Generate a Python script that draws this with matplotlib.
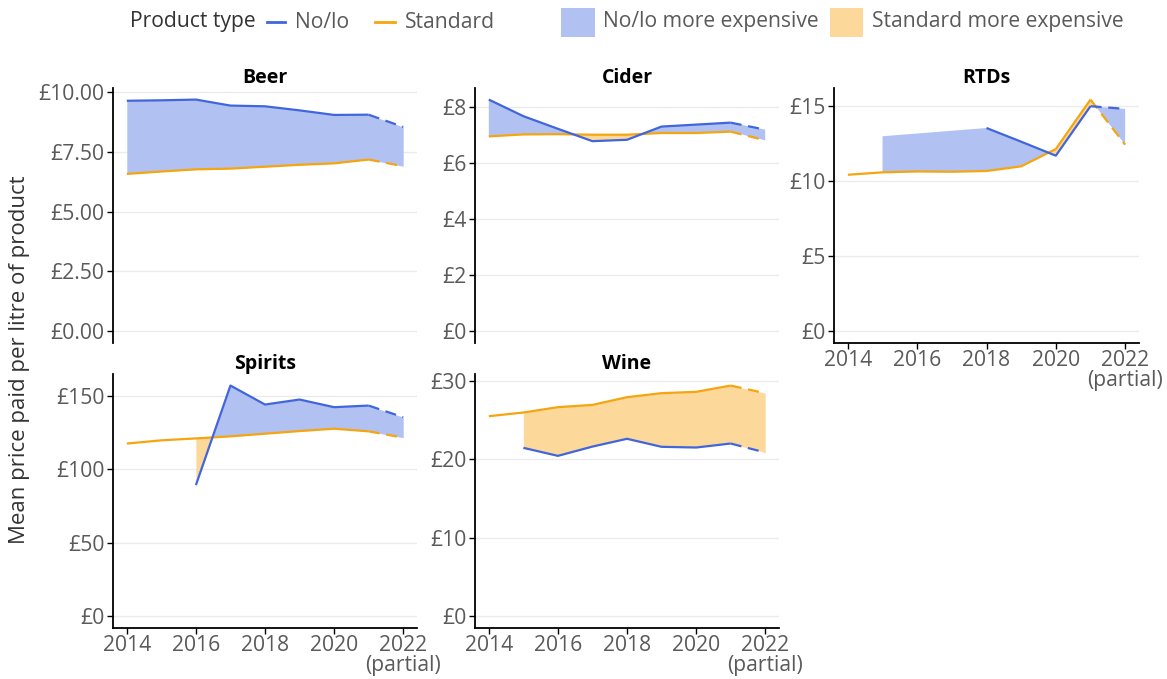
import numpy as np
import matplotlib
matplotlib.use("Agg")
import matplotlib.pyplot as plt
from matplotlib.lines import Line2D
from matplotlib.patches import Rectangle

years = [2014, 2015, 2016, 2017, 2018, 2019, 2020, 2021, 2022]
nan = np.nan

beer_nolo = [9.62, 9.64, 9.67, 9.42, 9.39, 9.22, 9.03, 9.04, 8.53]
beer_std = [6.57, 6.67, 6.76, 6.79, 6.87, 6.95, 7.01, 7.17, 6.89]
cider_nolo = [8.25, 7.66, 7.21, 6.77, 6.82, 7.29, 7.36, 7.43, 7.18]
cider_std = [6.94, 7.01, 7.02, 7.00, 7.00, 7.06, 7.06, 7.11, 6.80]
rtd_nolo = [nan, 12.98, nan, nan, 13.53, 12.62, 11.69, 14.98, 14.80]
rtd_std = [10.42, 10.58, 10.64, 10.62, 10.67, 10.98, 12.13, 15.42, 12.42]
spirits_nolo = [nan, nan, 89.2, 156.8, 143.9, 147.3, 142.1, 143.2, 135.3]
spirits_std = [117.4, 119.6, 120.9, 122.3, 124.1, 125.9, 127.5, 125.7, 121.4]
wine_nolo = [nan, 21.44, 20.42, 21.60, 22.59, 21.57, 21.48, 21.99, 20.85]
wine_std = [25.46, 25.93, 26.61, 26.90, 27.88, 28.39, 28.56, 29.36, 28.39]

panels = ["Beer", "Cider", "RTDs", "Spirits", "Wine"]
nolo = [beer_nolo, cider_nolo, rtd_nolo, spirits_nolo, wine_nolo]
std = [beer_std, cider_std, rtd_std, spirits_std, wine_std]
yticks = [[0, 2.5, 5, 7.5, 10], [0, 2, 4, 6, 8], [0, 5, 10, 15], [0, 50, 100, 150], [0, 10, 20, 30]]
ytick_fmt = ["£{:.2f}", "£{:.0f}", "£{:.0f}", "£{:.0f}", "£{:.0f}"]
xtick_vals = [2014, 2016, 2018, 2020, 2022]
xtick_labels = ["2014", "2016", "2018", "2020", "2022\n(partial)"]

BLUE = "#4166dc"
ORANGE = "#f5a50f"
BLUE_FILL = "#b1c1f1"
ORANGE_FILL = "#fdd89b"
TXT = "#5a5a5a"
FONT = "Open Sans"
FS = 15.2

W, H = 1167, 679
fig = plt.figure(figsize=(W / 100, H / 100), dpi=100)

# panel pixel boxes: (left, top, right, bottom)
boxes = [(113, 88, 417, 343), (475, 88, 779, 343), (834, 88, 1139, 343),
         (113, 374, 417, 628), (475, 374, 779, 628)]
show_x = [False, False, True, True, True]

for i, name in enumerate(panels):
    l, t, r, b = boxes[i]
    ax = fig.add_axes([l / W, 1 - b / H, (r - l) / W, (b - t) / H])
    x = np.array(years, dtype=float)
    yn = np.array(nolo[i], dtype=float)
    ys = np.array(std[i], dtype=float)

    # fill between series over the range where no/lo exists
    mn = ~np.isnan(yn)
    xs_f = np.linspace(x[mn].min(), x[mn].max(), 800)
    yn_f = np.interp(xs_f, x[mn], yn[mn])
    ys_f = np.interp(xs_f, x, ys)
    ax.fill_between(xs_f, yn_f, ys_f, where=yn_f >= ys_f, color=BLUE_FILL, lw=0, interpolate=True, zorder=1)
    ax.fill_between(xs_f, yn_f, ys_f, where=yn_f <= ys_f, color=ORANGE_FILL, lw=0, interpolate=True, zorder=1)

    # lines: solid up to 2021, dashed for 2021-2022
    for y, c in ((ys, ORANGE), (yn, BLUE)):
        ax.plot(x[:-1], y[:-1], color=c, lw=1.6, zorder=3, solid_capstyle="butt")
        ax.plot(x[-2:], y[-2:], color=c, lw=1.6, ls=(0, (5, 3)), zorder=3)

    ymax = np.nanmax(np.concatenate([yn, ys]))
    pad = ymax * 0.05
    ax.set_ylim(-pad, ymax + pad)
    ax.set_xlim(2013.6, 2022.4)
    ax.set_yticks(yticks[i])
    ax.set_yticklabels([ytick_fmt[i].format(v) for v in yticks[i]])
    ax.grid(axis="y", color="#ebebeb", lw=1.0, zorder=0)
    ax.set_axisbelow(True)
    for s in ("top", "right"):
        ax.spines[s].set_visible(False)
    ax.spines["left"].set_color("black")
    ax.spines["left"].set_linewidth(1.3)
    ax.tick_params(axis="y", colors="black", labelcolor=TXT, labelsize=FS, length=4, width=1, pad=2)
    for lab in ax.get_yticklabels():
        lab.set_family(FONT)
    if show_x[i]:
        ax.spines["bottom"].set_color("black")
        ax.spines["bottom"].set_linewidth(1.3)
        ax.set_xticks(xtick_vals)
        ax.set_xticklabels(xtick_labels, family=FONT, linespacing=0.95)
        ax.tick_params(axis="x", colors="black", labelcolor=TXT, labelsize=FS, length=4, width=1, pad=1)
    else:
        ax.spines["bottom"].set_visible(False)
        ax.set_xticks([])
    ax.set_title(name, fontsize=14, fontweight="bold", family="Open Sans", color="black", pad=1)

fig.text(20 / W, 1 - 360 / H, "Mean price paid per litre of product", rotation=90,
         ha="center", va="center", fontsize=16, color="#333333", family=FONT)

# legend
ly = 1 - 22 / H
fig.text(130 / W, ly, "Product type", ha="left", va="center", fontsize=FS, color="#333333", family=FONT)
fig.add_artist(Line2D([267 / W, 285 / W], [ly, ly], color=BLUE, lw=2, transform=fig.transFigure))
fig.text(295 / W, ly, "No/lo", ha="left", va="center", fontsize=FS, color=TXT, family=FONT)
fig.add_artist(Line2D([375 / W, 395 / W], [ly, ly], color=ORANGE, lw=2, transform=fig.transFigure))
fig.text(405 / W, ly, "Standard", ha="left", va="center", fontsize=FS, color=TXT, family=FONT)
fig.add_artist(Rectangle((561 / W, 1 - 37 / H), 34 / W, 29 / H, color=BLUE_FILL, transform=fig.transFigure, lw=0))
fig.text(603 / W, ly, "No/lo more expensive", ha="left", va="center", fontsize=FS, color=TXT, family=FONT)
fig.add_artist(Rectangle((830 / W, 1 - 37 / H), 33 / W, 29 / H, color=ORANGE_FILL, transform=fig.transFigure, lw=0))
fig.text(872 / W, ly, "Standard more expensive", ha="left", va="center", fontsize=FS, color=TXT, family=FONT)

fig.savefig("out.png", dpi=100)
